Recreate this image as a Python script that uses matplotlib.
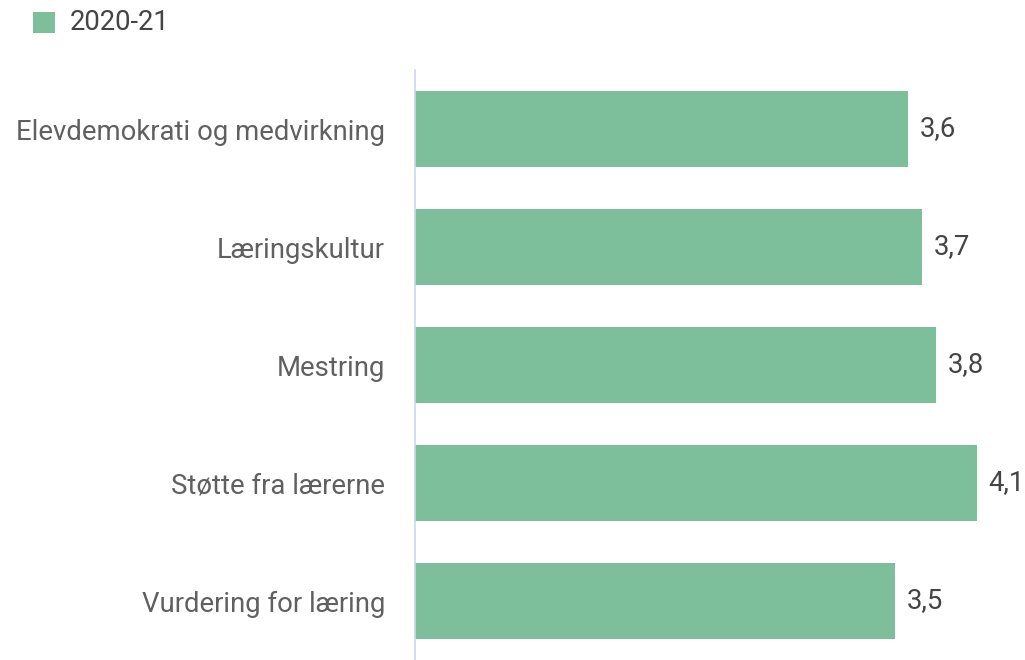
import matplotlib
matplotlib.use("Agg")
import matplotlib.pyplot as plt
from matplotlib.patches import Rectangle

categories = ["Elevdemokrati og medvirkning", "Læringskultur", "Mestring",
              "Støtte fra lærerne", "Vurdering for læring"]
values = [3.6, 3.7, 3.8, 4.1, 3.5]
value_labels = ["3,6", "3,7", "3,8", "4,1", "3,5"]
series_name = "2020-21"

bar_color = "#7dbf9b"
plt.rcParams['font.family'] = ['Roboto', 'DejaVu Sans']
FS = 19.8

W, H = 1025, 660
fig = plt.figure(figsize=(W / 100, H / 100), dpi=100)
ax = fig.add_axes([415 / W, 0, (W - 415) / W, 1 - 70 / H])

y = list(range(len(categories)))
ax.barh(y, values, height=0.64, color=bar_color, zorder=2)
ax.set_xlim(0, 610 / 137)
ax.set_ylim(len(categories) - 0.5, -0.5)

for yi, v, lab in zip(y, values, value_labels):
    ax.annotate(lab, (v, yi), xytext=(8.5, 0), textcoords="offset points",
                va="center", ha="left", fontsize=FS, color="#444444")

ax.set_yticks(y)
ax.set_yticklabels(categories, fontsize=FS, color="#606060")
ax.tick_params(axis="y", length=0, pad=21.5)
ax.set_xticks([])
for s in ["top", "right", "bottom"]:
    ax.spines[s].set_visible(False)
ax.spines["left"].set_color("#ccd6eb")
ax.spines["left"].set_linewidth(1.2)

# legend
fig.patches.append(Rectangle((33 / W, 1 - 33 / H), 22 / W, 21 / H,
                             transform=fig.transFigure, facecolor=bar_color,
                             edgecolor="none"))
fig.text(70 / W, 1 - 23 / H, series_name, fontsize=FS, color="#444444",
         va="center", ha="left")

fig.savefig("out.png", dpi=100)
